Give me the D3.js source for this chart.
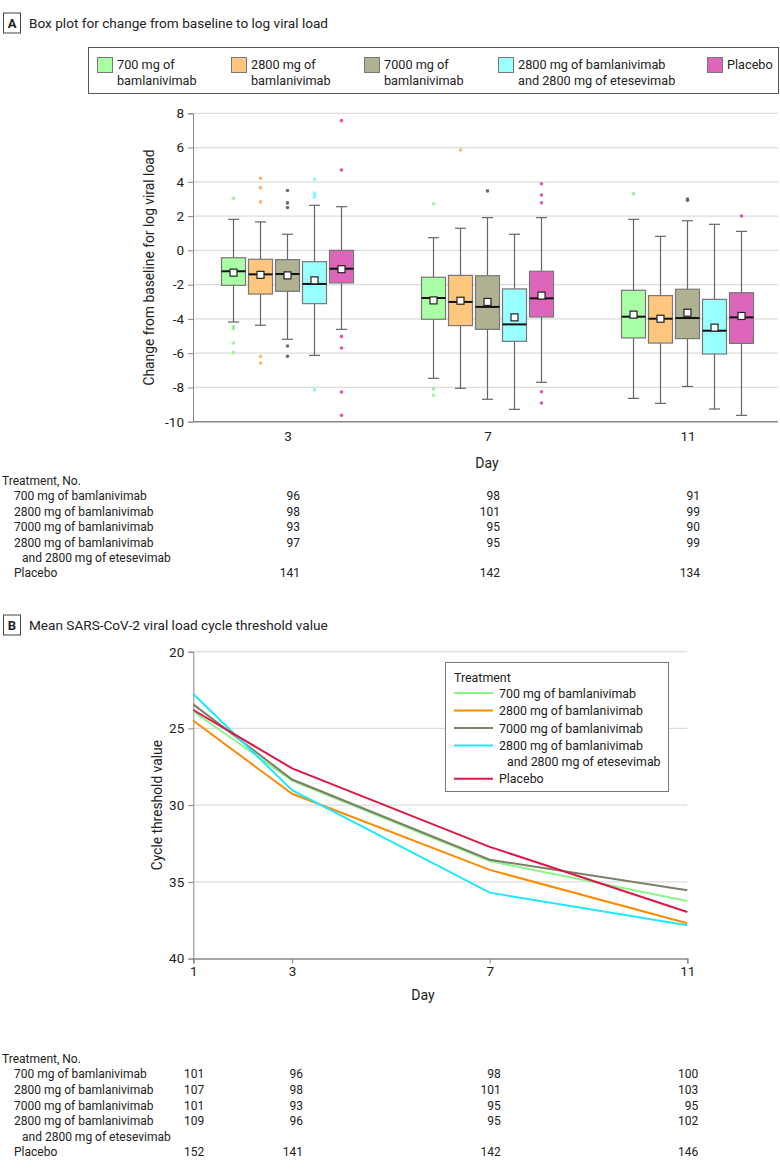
<!DOCTYPE html>
<html>
<head>
<meta charset="utf-8">
<script src="https://cdn.jsdelivr.net/npm/d3@7"></script>
<style>
  html, body { margin: 0; padding: 0; background: #fff; }
  svg { display: block; }
  text { fill: #222; }
</style>
</head>
<body>
<svg id="chart" width="780" height="1170"></svg>
<script>
// ---------------- DATA ----------------
const treatments = ["700 mg of bamlanivimab", "2800 mg of bamlanivimab", "7000 mg of bamlanivimab",
  "2800 mg of bamlanivimab and 2800 mg of etesevimab", "Placebo"];
const legendLinesA = [["700 mg of", "bamlanivimab"], ["2800 mg of", "bamlanivimab"], ["7000 mg of", "bamlanivimab"],
  ["2800 mg of bamlanivimab", "and 2800 mg of etesevimab"], ["Placebo"]];
const tableLines = [["700 mg of bamlanivimab"], ["2800 mg of bamlanivimab"], ["7000 mg of bamlanivimab"],
  ["2800 mg of bamlanivimab", "and 2800 mg of etesevimab"], ["Placebo"]];

const daysA = [3, 7, 11];
const yTicksA = [8, 6, 4, 2, 0, -2, -4, -6, -8, -10];
// rows: treatment, columns: day 3, 7, 11
const whiskerLow  = [[-4.18, -7.47, -8.64], [-4.37, -8.05, -8.93], [-5.19, -8.69, -7.94], [-6.13, -9.28, -9.26], [-4.61, -7.70, -9.63]];
const q1          = [[-2.04, -4.02, -5.11], [-2.55, -4.39, -5.41], [-2.39, -4.61, -5.15], [-3.11, -5.31, -6.05], [-1.90, -3.89, -5.43]];
const median      = [[-1.22, -2.78, -3.87], [-1.40, -3.01, -3.99], [-1.38, -3.30, -3.95], [-1.96, -4.32, -4.69], [-1.07, -2.80, -3.91]];
const q3          = [[-0.43, -1.57, -2.33], [-0.52, -1.46, -2.64], [-0.54, -1.48, -2.27], [-0.66, -2.25, -2.86], [0.00, -1.22, -2.47]];
const whiskerHigh = [[1.81, 0.74, 1.81], [1.66, 1.29, 0.82], [0.94, 1.91, 1.73], [2.63, 0.94, 1.52], [2.55, 1.91, 1.11]];
const meanA       = [[-1.30, -2.92, -3.75], [-1.43, -2.94, -3.99], [-1.46, -3.01, -3.64], [-1.75, -3.91, -4.51], [-1.10, -2.64, -3.83]];
const outliers = [
  [[3.04, -4.45, -4.57, -5.41, -5.97], [2.73, -8.09, -8.46], [3.31]],
  [[4.21, 3.66, 2.83, -6.20, -6.57], [5.86], []],
  [[3.49, 2.77, 2.50, -5.58, -6.18], [3.47], [3.00, 2.92]],
  [[4.15, 3.35, 3.25, 3.10, -8.13], [], []],
  [[7.57, 4.69, -5.02, -5.70, -8.27, -9.63], [3.89, 3.23, 2.78, -8.25, -8.91], [2.01]]
];
const countsA = [[96, 98, 91], [98, 101, 99], [93, 95, 90], [97, 95, 99], [141, 142, 134]];

const daysB = [1, 3, 7, 11];
const yTicksB = [20, 25, 30, 35, 40];
const ctValues = [
  [23.90, 28.40, 33.65, 36.24],
  [24.50, 29.26, 34.22, 37.70],
  [23.43, 28.33, 33.56, 35.55],
  [22.76, 29.02, 35.70, 37.83],
  [23.80, 27.60, 32.72, 36.96]
];
const countsB = [[101, 96, 98, 100], [107, 98, 101, 103], [101, 93, 95, 95], [109, 96, 95, 102], [152, 141, 142, 146]];

// ---------------- STYLE ----------------
const boxFill = ["#aaffa6", "#ffc680", "#b0b092", "#99ffff", "#dd66bb"];
const dotFill = ["#99f799", "#ffb569", "#6f6f5f", "#88f6ff", "#e055b5"];
const lineColor = ["#88f788", "#ff8a00", "#7f7f66", "#1ee8ff", "#dd1848"];
const FONT = "Roboto, 'Liberation Sans', sans-serif";

const svg = d3.select("#chart").style("font-family", FONT);

// ---------------- PANEL A ----------------
function panelLabel(letter, title, y) {
  svg.append("rect").attr("x", 3.5).attr("y", y).attr("width", 17).attr("height", 20)
    .attr("fill", "#fff").attr("stroke", "#444").attr("stroke-width", 1);
  svg.append("text").attr("x", 12).attr("y", y + 15).attr("text-anchor", "middle")
    .style("font-size", "13px").style("font-weight", "bold").text(letter);
  svg.append("text").attr("x", 29).attr("y", y + 15)
    .style("font-size", "13.6px").text(title);
}
panelLabel("A", "Box plot for change from baseline to log viral load", 13);

// Legend A
const legA = svg.append("g");
legA.append("rect").attr("x", 88.5).attr("y", 47.5).attr("width", 690).attr("height", 46)
  .attr("fill", "#fff").attr("stroke", "#555");
const legAx = [97, 231, 364, 498, 707];
treatments.forEach((t, i) => {
  const g = legA.append("g").attr("transform", `translate(${legAx[i]},0)`);
  g.append("rect").attr("x", 0.5).attr("y", 57.5).attr("width", 15).attr("height", 15)
    .attr("fill", boxFill[i]).attr("stroke", "#777");
  legendLinesA[i].forEach((ln, j) => {
    g.append("text").attr("x", 20).attr("y", 69 + j * 16).style("font-size", "12.7px").text(ln);
  });
});

const xA = d3.scalePoint().domain(daysA).range([287.5, 687.5]);
const off = d3.scaleBand().domain(d3.range(treatments.length)).range([-67.5, 67.5])
  .paddingInner(1 / 9).paddingOuter(1 / 18);
const yA = d3.scaleLinear().domain([-10, 8]).range([421.7, 113.3]);
const plotRightA = 778;

// gridlines
svg.append("g").selectAll("line").data(yTicksA.filter(d => d !== -10)).join("line")
  .attr("x1", 193).attr("x2", plotRightA).attr("y1", d => yA(d)).attr("y2", d => yA(d))
  .attr("stroke", "#dcdcdc").attr("stroke-width", 1.2);

// y axis
const yAxisA = svg.append("g").attr("transform", "translate(193,0)")
  .call(d3.axisLeft(yA).tickValues(yTicksA).tickSize(5).tickPadding(4).tickFormat(d3.format("d")));
yAxisA.select(".domain").attr("stroke", "#888");
yAxisA.selectAll(".tick line").attr("stroke", "#888");
yAxisA.selectAll(".tick text").style("font-size", "13.5px").style("font-family", FONT).attr("fill", "#222")
  .text(d => d < 0 ? "-" + Math.abs(d) : d);

// x axis
const xAxisA = svg.append("g").attr("transform", `translate(0,${yA(-10)})`)
  .call(d3.axisBottom(xA).tickSize(0).tickPadding(10));
xAxisA.select(".domain").attr("d", `M193,0H${plotRightA}`).attr("stroke", "#888").attr("stroke-width", 1.5);
xAxisA.selectAll(".tick text").style("font-size", "13.5px").style("font-family", FONT).attr("fill", "#222");

svg.append("text").attr("x", 487).attr("y", 468).attr("text-anchor", "middle").style("font-size", "14px").text("Day");
svg.append("text").attr("transform", `translate(154,${yA(-1)}) rotate(-90)`).attr("text-anchor", "middle")
  .style("font-size", "13.8px").text("Change from baseline for log viral load");

// boxes
const boxes = svg.append("g");
treatments.forEach((t, i) => {
  daysA.forEach((d, j) => {
    const cx = xA(d) + off(i) + off.bandwidth() / 2;
    const bw = off.bandwidth();
    const g = boxes.append("g");
    g.append("line").attr("x1", cx).attr("x2", cx).attr("y1", yA(whiskerHigh[i][j])).attr("y2", yA(q3[i][j]))
      .attr("stroke", "#666").attr("stroke-width", 1.2);
    g.append("line").attr("x1", cx).attr("x2", cx).attr("y1", yA(q1[i][j])).attr("y2", yA(whiskerLow[i][j]))
      .attr("stroke", "#666").attr("stroke-width", 1.2);
    [whiskerHigh[i][j], whiskerLow[i][j]].forEach(v => {
      g.append("line").attr("x1", cx - 5.5).attr("x2", cx + 5.5).attr("y1", yA(v)).attr("y2", yA(v))
        .attr("stroke", "#666").attr("stroke-width", 1.2);
    });
    g.append("rect").attr("x", cx - bw / 2).attr("width", bw)
      .attr("y", yA(q3[i][j])).attr("height", yA(q1[i][j]) - yA(q3[i][j]))
      .attr("fill", boxFill[i]).attr("stroke", "#777").attr("stroke-width", 1.2);
    g.append("line").attr("x1", cx - bw / 2).attr("x2", cx + bw / 2)
      .attr("y1", yA(median[i][j])).attr("y2", yA(median[i][j])).attr("stroke", "#111").attr("stroke-width", 2);
    g.append("rect").attr("x", cx - 3.5).attr("y", yA(meanA[i][j]) - 3.5).attr("width", 7).attr("height", 7)
      .attr("fill", "#fff").attr("stroke", "#222").attr("stroke-width", 1.2);
    g.selectAll("circle").data(outliers[i][j]).join("circle")
      .attr("cx", cx).attr("cy", v => yA(v)).attr("r", 1.8).attr("fill", dotFill[i]);
  });
});

// tables
function drawTable(topY, step, cols, counts, xPos) {
  const g = svg.append("g").style("font-size", "12px");
  g.append("text").attr("x", 2).attr("y", topY).text("Treatment, No.");
  let row = 0;
  tableLines.forEach((lines, i) => {
    const y0 = topY + step * (row + 1);
    lines.forEach((ln, k) => {
      g.append("text").attr("x", k === 0 ? 14 : 22).attr("y", topY + step * (row + 1 + k)).text(ln);
    });
    cols.forEach((c, j) => {
      g.append("text").attr("x", xPos(c)).attr("y", y0).attr("text-anchor", "end").text(counts[i][j]);
    });
    row += lines.length;
  });
}
drawTable(485, 15.4, daysA, countsA, d => xA(d) + 12.5);

// ---------------- PANEL B ----------------
panelLabel("B", "Mean SARS-CoV-2 viral load cycle threshold value", 615);

const xB = d3.scaleLinear().domain([1, 11]).range([193.3, 687.3]);
const yB = d3.scaleLinear().domain([20, 40]).range([651.7, 958.6]);

svg.append("g").selectAll("line").data(yTicksB.filter(d => d !== 40)).join("line")
  .attr("x1", 193).attr("x2", xB(11)).attr("y1", d => yB(d)).attr("y2", d => yB(d))
  .attr("stroke", "#dcdcdc").attr("stroke-width", 1.2);

const yAxisB = svg.append("g").attr("transform", "translate(193.3,0)")
  .call(d3.axisLeft(yB).tickValues(yTicksB).tickSize(5).tickPadding(4).tickFormat(d3.format("d")));
yAxisB.select(".domain").attr("stroke", "#888");
yAxisB.selectAll(".tick line").attr("stroke", "#888");
yAxisB.selectAll(".tick text").style("font-size", "13.5px").style("font-family", FONT).attr("fill", "#222");

const xAxisB = svg.append("g").attr("transform", `translate(0,${yB(40)})`)
  .call(d3.axisBottom(xB).tickValues(daysB).tickSize(5).tickPadding(3).tickFormat(d3.format("d")));
xAxisB.select(".domain").attr("stroke", "#888").attr("stroke-width", 1.5);
xAxisB.selectAll(".tick line").attr("stroke", "#888");
xAxisB.selectAll(".tick text").style("font-size", "13.5px").style("font-family", FONT).attr("fill", "#222");

svg.append("text").attr("x", 423).attr("y", 1000).attr("text-anchor", "middle").style("font-size", "14px").text("Day");
svg.append("text").attr("transform", `translate(162,${yB(30)}) rotate(-90)`).attr("text-anchor", "middle")
  .style("font-size", "13.8px").text("Cycle threshold value");

const line = d3.line().x((d, k) => xB(daysB[k])).y(d => yB(d));
svg.append("g").selectAll("path").data(ctValues).join("path")
  .attr("d", d => line(d)).attr("fill", "none")
  .attr("stroke", (d, i) => lineColor[i]).attr("stroke-width", 2);

// legend B
const legB = svg.append("g").style("font-size", "12.4px");
legB.append("rect").attr("x", 445.5).attr("y", 662.5).attr("width", 223).attr("height", 129)
  .attr("fill", "#fff").attr("stroke", "#777");
legB.append("text").attr("x", 454).attr("y", 681.5).text("Treatment");
let rowB = 0;
tableLines.forEach((lines, i) => {
  const yc = 693 + rowB * 17.5;
  legB.append("line").attr("x1", 454).attr("x2", 493).attr("y1", yc).attr("y2", yc)
    .attr("stroke", lineColor[i]).attr("stroke-width", 2);
  lines.forEach((ln, k) => {
    legB.append("text").attr("x", k === 0 ? 499 : 507).attr("y", yc + 4.5 + k * 16).text(ln);
  });
  rowB += lines.length === 2 ? 1.9 : 1;
});

drawTable(1062.7, 15.6, daysB, countsB, d => xB(d) + 11);
</script>
</body>
</html>
